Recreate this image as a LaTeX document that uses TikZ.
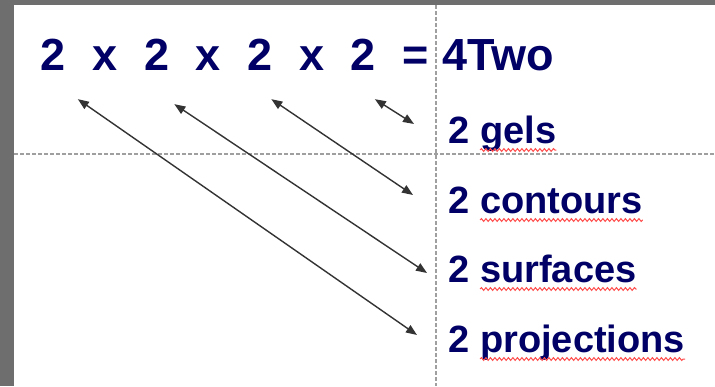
\documentclass[tikz,border=0pt]{standalone}
\usepackage{fontspec}
\setmainfont{Liberation Sans}
\usetikzlibrary{arrows.meta,decorations.pathmorphing}
\definecolor{navy}{RGB}{0,0,102}
\definecolor{frame}{RGB}{110,110,110}

\begin{document}
\begin{tikzpicture}[x=1pt,y=-1pt,line width=.35pt,
  big/.style={inner sep=0pt,anchor=base west,text=navy,font=\fontsize{45}{54}\selectfont\bfseries},
  lbl/.style={inner sep=0pt,anchor=base west,text=navy,font=\fontsize{38}{46}\selectfont\bfseries},
  guide/.style={draw=gray!75,line width=1.2pt,dash pattern=on 4pt off 2pt},
  link/.style={draw=black!80,line width=1.4pt,{Triangle[length=11pt,width=8.5pt]}-{Triangle[length=11pt,width=8.5pt]}},
  wavy/.style={draw=red!70,line width=1pt,decorate,decoration={snake,amplitude=1.4pt,segment length=4.5pt}}]
\useasboundingbox (0,0) rectangle (715,386);
\fill[frame] (0,0) rectangle (715,386);
\fill[white] (14,5) rectangle (715,386);
\draw[guide] (436,5)--(436,386);
\draw[guide] (14,154)--(715,154);
% top line
\node[big] (t1) at (40.5,70) {2};\node[big] (x1) at (92,70) {x};
\node[big] (t2) at (144,70) {2};\node[big] (x2) at (195.5,70) {x};
\node[big] (t3) at (247,70) {2};\node[big] (x3) at (299,70) {x};
\node[big] (t4) at (350.5,70) {2};\node[big] (eq) at (402,70) {=};
\node[big] (res) at (442,70) {4Two};
% right column
\node[lbl] (n1) at (448,143) {2};\node[lbl] (gels) at (480,143) {gels};
\node[lbl] (n2) at (448,213) {2};\node[lbl] (contours) at (480,213) {contours};
\node[lbl] (n3) at (448,282) {2};\node[lbl] (surfaces) at (480,282) {surfaces};
\node[lbl] (n4) at (448,352) {2};\node[lbl] (projections) at (480,352) {projections};
\foreach \w in {gels,contours,surfaces,projections}
  \draw[wavy] ([shift={(0,7)}]\w.base west)--([shift={(0,7)}]\w.base east);
% arrows
\draw[link] ([shift={(12,29)}]t1.south east)--([shift={(-31,-17)}]n4.base west);
\draw[link] ([shift={(5,34)}]t2.south east)--([shift={(-21,-9)}]n3.base west);
\draw[link] ([shift={(-1,29)}]t3.south east)--([shift={(-35,-18)}]n2.base west);
\draw[link] ([shift={(-1,29)}]t4.south east)--([shift={(-34,-19)}]n1.base west);
\end{tikzpicture}
\end{document}
